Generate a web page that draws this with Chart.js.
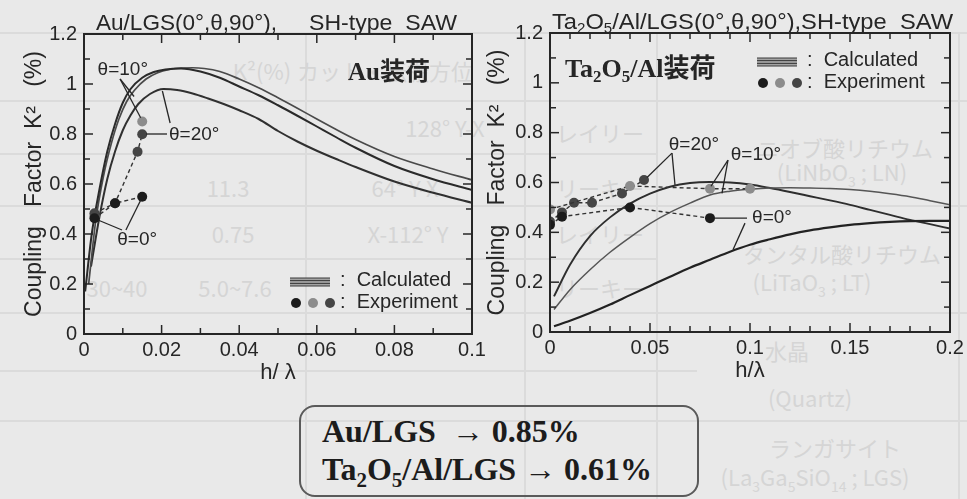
<!DOCTYPE html>
<html>
<head>
<meta charset="utf-8">
<script src="https://cdn.jsdelivr.net/npm/chart.js@4.4.0/dist/chart.umd.min.js"></script>
<style>
  html, body { margin: 0; padding: 0; background: #e9e9e9; width: 967px; height: 499px; overflow: hidden; }
  #page { position: relative; width: 967px; height: 499px; font-family: 'Liberation Sans', Arial, sans-serif; }
  .tx { position: absolute; color: #d5d5d5; font-size: 22px; white-space: nowrap; transform: translate(-50%, -50%); font-family: 'Noto Sans CJK JP', 'Liberation Sans', sans-serif; }
  .tx sub { font-size: 14px; }
  .hl { position: absolute; height: 2px; background: #dbdbdb; }
  .vl { position: absolute; width: 2px; background: #dbdbdb; }
  canvas { position: absolute; top: 0; }
  #cAu { left: 0; }
  #cTa { left: 480px; }
  #box { position: absolute; left: 299px; top: 405px; width: 400px; height: 92px; box-sizing: border-box;
         border: 2px solid #5a5a5a; border-radius: 16px; padding: 5px 0 0 21px;
         font-family: 'Liberation Serif', 'Times New Roman', serif; font-weight: bold; font-size: 32px; color: #1c1c1c; }
  #box .ln { height: 38px; line-height: 38px; white-space: pre; }
  #box sub { font-size: 21px; vertical-align: -7px; line-height: 0; }
</style>
</head>
<body>
<div id="page">
  <!-- faint table printed behind the figure -->
  <div class="hl" style="left:0;top:32px;width:967px"></div>
  <div class="hl" style="left:0;top:100px;width:967px"></div>
  <div class="hl" style="left:0;top:153px;width:656px"></div>
  <div class="hl" style="left:0;top:205px;width:967px"></div>
  <div class="hl" style="left:0;top:258px;width:656px"></div>
  <div class="hl" style="left:0;top:312px;width:967px"></div>
  <div class="hl" style="left:0;top:370px;width:697px"></div>
  <div class="hl" style="left:0;top:420px;width:967px"></div>
  <div class="vl" style="left:305px;top:32px;height:467px"></div>
  <div class="vl" style="left:524px;top:32px;height:467px"></div>
  <div class="vl" style="left:656px;top:32px;height:467px"></div>
  <div class="vl" style="left:958px;top:32px;height:467px"></div>
  <div class="tx" style="left:262px;top:70px">K²(%)</div>
  <div class="tx" style="left:385px;top:70px">カット・伝搬方位</div>
  <div class="tx" style="left:445px;top:127px">128° Y-X</div>
  <div class="tx" style="left:405px;top:187px">64° Y-X</div>
  <div class="tx" style="left:228px;top:187px">11.3</div>
  <div class="tx" style="left:233px;top:233px">0.75</div>
  <div class="tx" style="left:408px;top:233px">X-112° Y</div>
  <div class="tx" style="left:235px;top:287px">5.0~7.6</div>
  <div class="tx" style="left:117px;top:287px">30~40</div>
  <div class="tx" style="left:600px;top:132px">レイリー</div>
  <div class="tx" style="left:600px;top:187px">リーキー</div>
  <div class="tx" style="left:600px;top:233px">レイリー</div>
  <div class="tx" style="left:600px;top:287px">リーキー</div>
  <div class="tx" style="left:845px;top:147px">ニオブ酸リチウム</div>
  <div class="tx" style="left:842px;top:173px">(LiNbO<sub>3</sub> ; LN)</div>
  <div class="tx" style="left:842px;top:253px">タンタル酸リチウム</div>
  <div class="tx" style="left:812px;top:283px">(LiTaO<sub>3</sub> ; LT)</div>
  <div class="tx" style="left:787px;top:350px">水晶</div>
  <div class="tx" style="left:810px;top:397px">(Quartz)</div>
  <div class="tx" style="left:835px;top:447px">ランガサイト</div>
  <div class="tx" style="left:815px;top:478px">(La<sub>3</sub>Ga<sub>5</sub>SiO<sub>14</sub> ; LGS)</div>

  <canvas id="cAu" width="494" height="390"></canvas>
  <canvas id="cTa" width="487" height="390"></canvas>

  <div id="box"><div class="ln" id="lnAu"></div><div class="ln" id="lnTa"></div></div>
</div>

<script>
// ---------- axes ----------
const kTicks   = [0, 0.2, 0.4, 0.6, 0.8, 1, 1.2];
const kLabels  = ['0', '0.2', '0.4', '0.6', '0.8', '1', '1.2'];
const kMinor   = [0.1, 0.3, 0.5, 0.7, 0.9, 1.1];
const auXTicks  = [0, 0.02, 0.04, 0.06, 0.08, 0.1];
const auXLabels = ['0', '0.02', '0.04', '0.06', '0.08', '0.1'];
const auXMinor  = [0.01, 0.03, 0.05, 0.07, 0.09];
const taXTicks  = [0, 0.05, 0.1, 0.15, 0.2];
const taXLabels = ['0', '0.05', '0.1', '0.15', '0.2'];
const taXMinor  = [0.01, 0.02, 0.03, 0.04, 0.06, 0.07, 0.08, 0.09, 0.11, 0.12, 0.13, 0.14, 0.16, 0.17, 0.18, 0.19];

// ---------- Au/LGS : calculated K² (%) vs h/λ ----------
const auCalcX0  = [0.0003, 0.002, 0.004, 0.006, 0.008, 0.010, 0.012, 0.015, 0.018, 0.021, 0.025, 0.030, 0.035, 0.040, 0.045, 0.050, 0.055, 0.060, 0.065, 0.070, 0.080, 0.090, 0.100];
const auCalcK0  = [0.17, 0.40, 0.58, 0.73, 0.84, 0.925, 0.98, 1.025, 1.048, 1.058, 1.062, 1.05, 1.025, 0.99, 0.955, 0.915, 0.873, 0.83, 0.787, 0.745, 0.672, 0.619, 0.576];
const auCalcX10 = [0.0012, 0.003, 0.005, 0.007, 0.009, 0.011, 0.013, 0.016, 0.019, 0.022, 0.025, 0.028, 0.031, 0.035, 0.040, 0.045, 0.050, 0.055, 0.060, 0.065, 0.070, 0.080, 0.090, 0.100];
const auCalcK10 = [0.20, 0.45, 0.63, 0.76, 0.86, 0.93, 0.975, 1.02, 1.045, 1.058, 1.064, 1.065, 1.062, 1.05, 1.02, 0.985, 0.945, 0.903, 0.86, 0.818, 0.778, 0.71, 0.66, 0.616];
const auCalcX20 = [0.0018, 0.004, 0.006, 0.008, 0.010, 0.012, 0.014, 0.017, 0.0205, 0.024, 0.028, 0.032, 0.036, 0.040, 0.045, 0.050, 0.055, 0.060, 0.065, 0.070, 0.080, 0.090, 0.100];
const auCalcK20 = [0.27, 0.47, 0.62, 0.73, 0.815, 0.875, 0.92, 0.96, 0.98, 0.976, 0.962, 0.942, 0.92, 0.895, 0.86, 0.812, 0.77, 0.733, 0.70, 0.668, 0.61, 0.565, 0.525];

// ---------- Au/LGS : measured ----------
const auExpX0  = [0.0027, 0.008, 0.015];
const auExpK0  = [0.463, 0.523, 0.549];
const auExpX10 = [0.0027, 0.015];
const auExpK10 = [0.472, 0.85];
const auExpX20 = [0.0027, 0.008, 0.0138, 0.015];
const auExpK20 = [0.483, 0.523, 0.729, 0.799];

// ---------- Ta2O5/Al/LGS : calculated ----------
const taCalcX   = [0.002, 0.01, 0.02, 0.03, 0.04, 0.05, 0.06, 0.07, 0.08, 0.09, 0.10, 0.11, 0.12, 0.13, 0.14, 0.15, 0.16, 0.17, 0.18, 0.19, 0.20];
const taCalcK0  = [0.023, 0.045, 0.076, 0.11, 0.148, 0.185, 0.222, 0.258, 0.29, 0.322, 0.35, 0.372, 0.392, 0.408, 0.42, 0.43, 0.437, 0.442, 0.445, 0.446, 0.446];
const taCalcK10 = [0.09, 0.17, 0.25, 0.32, 0.38, 0.435, 0.48, 0.517, 0.55, 0.565, 0.573, 0.578, 0.579, 0.578, 0.576, 0.572, 0.565, 0.555, 0.543, 0.527, 0.511];
const taCalcK20 = [0.143, 0.27, 0.385, 0.46, 0.515, 0.555, 0.583, 0.598, 0.602, 0.60, 0.592, 0.578, 0.562, 0.545, 0.528, 0.51, 0.49, 0.47, 0.45, 0.433, 0.415];

// ---------- Ta2O5/Al/LGS : measured ----------
const taExpX0  = [0, 0.006, 0.04, 0.08];
const taExpK0  = [0.43, 0.463, 0.50, 0.457];
const taExpX10 = [0, 0.04, 0.08, 0.1];
const taExpK10 = [0.492, 0.586, 0.575, 0.575];
const taExpX20 = [0, 0.006, 0.012, 0.021, 0.036, 0.047];
const taExpK20 = [0.443, 0.48, 0.519, 0.519, 0.556, 0.61];

// ---------- styling ----------
const SANS = "'Liberation Sans', Arial, sans-serif";
const SERIF = "'Liberation Serif', 'Times New Roman', serif";
const CJK = "'Noto Sans CJK JP', sans-serif";
const INK = '#262626';
const DOT_BLACK = '#1c1c1c', DOT_GRAY = '#8c8c8c', DOT_DARK = '#454545';

const pts = (xs, ys) => xs.map((x, i) => ({ x, y: ys[i] }));

function calcSet(xs, ys, color, width) {
  return { data: pts(xs, ys), borderColor: color, borderWidth: width, pointRadius: 0,
           cubicInterpolationMode: 'monotone', fill: false, order: 2 };
}
function expSet(xs, ys, color, joined) {
  return { data: pts(xs, ys), showLine: joined, borderColor: '#333', borderWidth: 1.4, borderDash: [4, 3],
           tension: 0, pointRadius: 5, pointBackgroundColor: color, pointBorderColor: color,
           pointBorderWidth: 0, fill: false, order: 0 };
}

// inward tick marks, frame, annotations, legend and headings
const framePlugin = {
  id: 'frame',
  afterDatasetsDraw(chart, args, o) {
    const ctx = chart.ctx;
    const { left, right, top, bottom } = chart.chartArea;
    const xs = chart.scales.x, ys = chart.scales.y;
    const seg = (a, b, c, d) => { ctx.beginPath(); ctx.moveTo(a, b); ctx.lineTo(c, d); ctx.stroke(); };
    ctx.save();
    ctx.strokeStyle = INK;
    ctx.lineWidth = 1.5;
    o.xMajor.forEach(v => { const p = xs.getPixelForValue(v); seg(p, bottom, p, bottom - 9); seg(p, top, p, top + 9); });
    o.xMinor.forEach(v => { const p = xs.getPixelForValue(v); seg(p, bottom, p, bottom - 6); seg(p, top, p, top + 6); });
    o.yMajor.forEach(v => { const p = ys.getPixelForValue(v); seg(left, p, left + 9, p); seg(right, p, right - 9, p); });
    o.yMinor.forEach(v => { const p = ys.getPixelForValue(v); seg(left, p, left + 6, p); seg(right, p, right - 6, p); });
    ctx.lineWidth = 2;
    ctx.strokeRect(left, top, right - left, bottom - top);

    // leader lines from the angle labels
    ctx.lineWidth = 1.3;
    o.leaders.forEach(([x1, y1, x2, y2]) =>
      seg(xs.getPixelForValue(x1), ys.getPixelForValue(y1), xs.getPixelForValue(x2), ys.getPixelForValue(y2)));
    ctx.fillStyle = INK;
    ctx.font = `19px ${SANS}`;
    ctx.textAlign = 'center';
    ctx.textBaseline = 'middle';
    o.labels.forEach(l => ctx.fillText(l.text, xs.getPixelForValue(l.x), ys.getPixelForValue(l.y)));

    // legend
    const lx = left + o.legend[0], ly = top + o.legend[1];
    ctx.fillStyle = '#a3a3a3';
    ctx.fillRect(lx, ly - 4, 40, 8);
    ctx.strokeStyle = '#3a3a3a';
    ctx.lineWidth = 1;
    [-4, -1.4, 1.4, 4].forEach(d => seg(lx, ly + d, lx + 40, ly + d));
    [[6, DOT_BLACK], [23, DOT_GRAY], [40, DOT_DARK]].forEach(([dx, c]) => {
      ctx.fillStyle = c; ctx.beginPath(); ctx.arc(lx + dx, ly + 21, 5, 0, Math.PI * 2); ctx.fill();
    });
    ctx.fillStyle = INK;
    ctx.font = `20px ${SANS}`;
    ctx.textAlign = 'left';
    ctx.fillText(':  Calculated', lx + 50, ly - 2);
    ctx.fillText(':  Experiment', lx + 50, ly + 20);

    // rich text runs, optionally stretched to a set width
    const runs = (list, x, y, fitW) => {
      ctx.textBaseline = 'alphabetic';
      let w = 0;
      list.forEach(r => { ctx.font = r.f; w += ctx.measureText(r.t).width; });
      ctx.save();
      ctx.translate(x, y);
      ctx.scale(fitW ? fitW / w : 1, 1);
      let cx = 0;
      list.forEach(r => { ctx.font = r.f; ctx.fillText(r.t, cx, r.dy || 0); cx += ctx.measureText(r.t).width; });
      ctx.restore();
    };
    runs(o.heading, left + o.headingPos[0], top + o.headingPos[1]);
    o.title.forEach(p => runs(p.runs, p.x, p.y, p.w));
    ctx.restore();
  }
};

function makeScales(xTicks, xLabels, xMax, xTitle, xTitleBottom, yWidth, yTitleTop, xHeight) {
  const tickFont = { family: SANS, size: 20 };
  return {
    x: {
      type: 'linear', min: 0, max: xMax,
      afterBuildTicks: s => { s.ticks = xTicks.map(v => ({ value: v })); },
      ticks: { callback: (v, i) => xLabels[i], font: tickFont, color: INK, padding: 4, maxRotation: 0, autoSkip: false },
      grid: { display: false, drawTicks: false }, border: { display: false },
      title: { display: true, text: xTitle, font: { family: SANS, size: 22 }, color: INK, padding: { top: 0, bottom: xTitleBottom } },
      afterFit: s => { s.height = xHeight; s.paddingLeft = 0; s.paddingRight = 0; }
    },
    y: {
      type: 'linear', min: 0, max: 1.2,
      afterBuildTicks: s => { s.ticks = kTicks.map(v => ({ value: v })); },
      ticks: { callback: (v, i) => kLabels[i], font: tickFont, color: INK, padding: 7, autoSkip: false },
      grid: { display: false, drawTicks: false }, border: { display: false },
      title: { display: true, text: 'Coupling   Factor  K²   (%)', font: { family: SANS, size: 23 }, color: INK, padding: { top: yTitleTop, bottom: 0 } },
      afterFit: s => { s.width = yWidth; s.paddingTop = 0; s.paddingBottom = 0; }
    }
  };
}

const baseOptions = (padding, scales, frame) => ({
  responsive: false, animation: false, devicePixelRatio: 1,
  layout: { padding, autoPadding: false },
  scales,
  plugins: { legend: { display: false }, tooltip: { enabled: false }, frame }
});

const TITLE_FONT = `22px ${SANS}`;
const SUB_FONT = `14px ${SANS}`;

// ---------- Au/LGS chart ----------
new Chart(document.getElementById('cAu'), {
  type: 'line',
  data: { datasets: [
    calcSet(auCalcX0, auCalcK0, '#2a2a2a', 2),
    calcSet(auCalcX10, auCalcK10, '#4a4a4a', 1.7),
    calcSet(auCalcX20, auCalcK20, '#303030', 2),
    expSet(auExpX0, auExpK0, DOT_BLACK, true),
    expSet(auExpX20, auExpK20, DOT_DARK, true),
    expSet(auExpX10, auExpK10, DOT_GRAY, false)
  ] },
  options: baseOptions({ top: 34, right: 22, left: 0, bottom: 0 },
    makeScales(auXTicks, auXLabels, 0.1, 'h/ λ', 4, 84, 21, 56),
    {
      xMajor: auXTicks.slice(1, -1), xMinor: auXMinor, yMajor: kTicks.slice(1, -1), yMinor: kMinor,
      labels: [
        { text: 'θ=10°', x: 0.0100, y: 1.056 },
        { text: 'θ=20°', x: 0.0284, y: 0.796 },
        { text: 'θ=0°',  x: 0.0137, y: 0.376 }
      ],
      leaders: [
        [0.0093, 1.02, 0.0129, 0.95], [0.0093, 1.02, 0.0146, 0.865],
        [0.0214, 0.80, 0.0160, 0.80], [0.0222, 0.844, 0.0202, 0.972],
        [0.0098, 0.416, 0.0036, 0.456], [0.0108, 0.416, 0.0146, 0.535]
      ],
      legend: [206, 248],
      heading: [{ t: 'Au', f: `bold 25px ${SERIF}` }, { t: '装荷', f: `bold 25px ${CJK}` }],
      headingPos: [264, 46],
      title: [
        { runs: [{ t: 'Au/LGS(0°,θ,90°),', f: TITLE_FONT }], x: 96, y: 30, w: 181 },
        { runs: [{ t: 'SH-type  SAW', f: TITLE_FONT }], x: 309, y: 30, w: 148 }
      ]
    }),
  plugins: [framePlugin]
});

// ---------- Ta2O5/Al/LGS chart ----------
new Chart(document.getElementById('cTa'), {
  type: 'line',
  data: { datasets: [
    calcSet(taCalcX, taCalcK0, '#222222', 2.2),
    calcSet(taCalcX, taCalcK10, '#555555', 1.5),
    calcSet(taCalcX, taCalcK20, '#2e2e2e', 1.9),
    expSet(taExpX0, taExpK0, DOT_BLACK, true),
    expSet(taExpX10, taExpK10, DOT_GRAY, true),
    expSet(taExpX20, taExpK20, DOT_DARK, true)
  ] },
  options: baseOptions({ top: 33, right: 17, left: 0, bottom: 0 },
    makeScales(taXTicks, taXLabels, 0.2, 'h/λ', 6, 70, 4, 58),
    {
      xMajor: taXTicks.slice(1, -1), xMinor: taXMinor, yMajor: kTicks.slice(1, -1), yMinor: kMinor,
      labels: [
        { text: 'θ=20°', x: 0.072, y: 0.75 },
        { text: 'θ=10°', x: 0.103, y: 0.71 },
        { text: 'θ=0°',  x: 0.111, y: 0.457 }
      ],
      leaders: [
        [0.061, 0.718, 0.0485, 0.62], [0.061, 0.718, 0.0625, 0.59],
        [0.089, 0.69, 0.0805, 0.585], [0.089, 0.69, 0.086, 0.556],
        [0.0985, 0.457, 0.082, 0.457], [0.0975, 0.437, 0.0915, 0.33]
      ],
      legend: [207, 29],
      heading: [
        { t: 'Ta', f: `bold 26px ${SERIF}` }, { t: '2', f: `bold 17px ${SERIF}`, dy: 5 },
        { t: 'O', f: `bold 26px ${SERIF}` }, { t: '5', f: `bold 17px ${SERIF}`, dy: 5 },
        { t: '/Al', f: `bold 26px ${SERIF}` }, { t: '装荷', f: `bold 26px ${CJK}` }
      ],
      headingPos: [15, 44],
      title: [
        { runs: [
            { t: 'Ta', f: TITLE_FONT }, { t: '2', f: SUB_FONT, dy: 4 },
            { t: 'O', f: TITLE_FONT }, { t: '5', f: SUB_FONT, dy: 4 },
            { t: '/Al/LGS(0°,θ,90°),SH-type  SAW', f: TITLE_FONT }
          ], x: 72, y: 29, w: 401 }
      ]
    }),
  plugins: [framePlugin]
});

// ---------- summary box: best measured K² of each structure ----------
const auBest = Math.max(...auExpK0, ...auExpK10, ...auExpK20);
const taBest = Math.max(...taExpK0, ...taExpK10, ...taExpK20);
document.getElementById('lnAu').textContent = `Au/LGS  → ${auBest.toFixed(2)}%`;
document.getElementById('lnTa').innerHTML = `Ta<sub>2</sub>O<sub>5</sub>/Al/LGS → ${taBest.toFixed(2)}%`;
</script>
</body>
</html>
